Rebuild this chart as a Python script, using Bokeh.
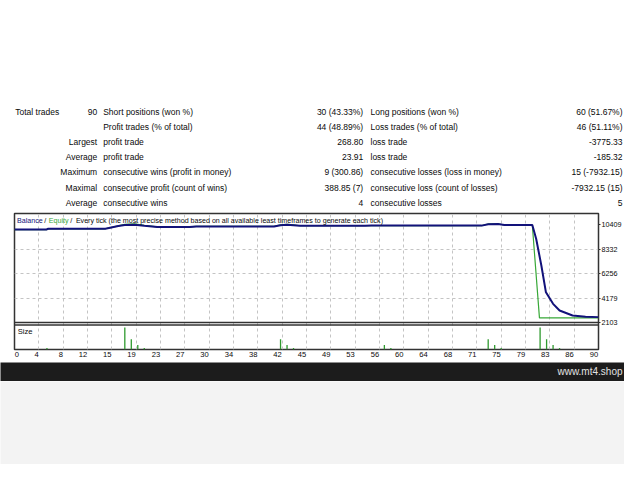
from bokeh.plotting import figure
from bokeh.models import Range1d, FixedTicker, Span, LinearAxis, Grid
from bokeh.embed import file_html
from bokeh.resources import INLINE
from bokeh.core.properties import value

# ---------------- data ----------------
total_trades = 90
row_titles = ["Total trades", "", "", "", "", "", ""]
row_heads = ["90", "", "Largest", "Average", "Maximum", "Maximal", "Average"]
left_names = ["Short positions (won %)", "Profit trades (% of total)", "profit trade", "profit trade",
              "consecutive wins (profit in money)", "consecutive profit (count of wins)", "consecutive wins"]
left_values = ["30 (43.33%)", "44 (48.89%)", "268.80", "23.91", "9 (300.86)", "388.85 (7)", "4"]
right_names = ["Long positions (won %)", "Loss trades (% of total)", "loss trade", "loss trade",
               "consecutive losses (loss in money)", "consecutive loss (count of losses)", "consecutive losses"]
right_values = ["60 (51.67%)", "46 (51.11%)", "-3775.33", "-185.32", "15 (-7932.15)", "-7932.15 (15)", "5"]

balance_x = [0, 4.9, 5.2, 14, 16, 17, 18.5, 20, 22, 27, 28, 40, 41, 42, 43, 44, 54, 55, 72, 73, 74.5, 75.5,
             79.8, 80.4, 81.2, 81.9, 83, 84, 86, 88, 90]
balance_y = [10000, 10000, 10070, 10070, 10300, 10400, 10420, 10330, 10230, 10230, 10270, 10270, 10370, 10410,
             10380, 10330, 10330, 10340, 10340, 10460, 10470, 10390,
             10390, 9200, 6930, 4670, 3690, 3120, 2700, 2600, 2560]
equity_x = [0, 4.9, 5.2, 14, 16, 17, 18.5, 20, 22, 27, 28, 40, 41, 42, 43, 44, 54, 55, 72, 73, 74.5, 75.5,
            79.8, 80.9, 90]
equity_y = [10000, 10000, 10070, 10070, 10320, 10450, 10480, 10360, 10230, 10230, 10270, 10270, 10400, 10450,
            10400, 10330, 10330, 10340, 10340, 10480, 10490, 10390,
            10390, 2500, 2500]
size_trades = [5, 17, 18, 19, 20, 41, 42, 43, 57, 58, 73, 74, 75, 81, 82, 83, 84]
size_lots = [0.02, 0.16, 0.08, 0.04, 0.02, 0.08, 0.04, 0.02, 0.04, 0.02, 0.08, 0.04, 0.02,
             0.16, 0.08, 0.04, 0.02]
min_lot = 0.01
y_ticks = [2103, 4179, 6256, 8332, 10409]
x_tick_labels = ["0", "4", "8", "12", "15", "19", "23", "27", "30", "34", "38", "42", "45",
                 "49", "53", "56", "60", "64", "68", "71", "75", "79", "83", "86", "90"]

# ---------------- styling / geometry ----------------
FONT = "Liberation Sans"
TXT = "#0a0a0a"
NAVY = "#12127a"
GREEN = "#37a837"
W = 624
BL, BR = 14, 23
FR_L, FR_R = BL, W - BR
FR_T, FR_B = 213, 349
PPT = (FR_R - FR_L) / total_trades
K = (y_ticks[-1] - y_ticks[0]) / 97.7
Y_BASE_PX = 322


def tx(px):
    return (px - FR_L) / PPT


def vy(py):
    return y_ticks[0] + (Y_BASE_PX - py) * K


def plain(height, bg="white"):
    f = figure(width=W, height=height, x_range=Range1d(0, W), y_range=Range1d(height, 0),
               min_border=0, x_axis_location=None, y_axis_location=None, outline_line_color=None,
               toolbar_location=None, output_backend="svg", title_location=None,
               background_fill_color=bg, border_fill_color=bg)
    f.grid.visible = False
    return f


# ---------------- table figure ----------------
TAB_H = 212
tab = plain(TAB_H)
rows_y = [111 + i * 15.23 for i in range(len(left_names))]
cols = [
    (row_titles, 14.7, "left"),
    (row_heads, 96.7, "right"),
    (left_names, 102.7, "left"),
    (left_values, 362.7, "right"),
    (right_names, 370, "left"),
    (right_values, 622, "right"),
]
for texts, xpx, align in cols:
    ys = [y for y, t in zip(rows_y, texts) if t]
    ts = [t for t in texts if t]
    tab.text(x=[xpx] * len(ts), y=ys, text=ts, text_align=align, text_baseline="middle",
             text_font=value(FONT), text_font_size="8.5px", text_color=TXT)

# ---------------- balance / equity + size figure ----------------
size_per_px = (max(size_lots) - min_lot) / 22.0
p = figure(width=W, height=150, output_backend="svg", toolbar_location=None, title_location=None,
           x_range=Range1d(0, total_trades), y_range=Range1d(vy(FR_B), vy(FR_T)),
           x_axis_location=None, y_axis_location=None,
           min_border_left=BL, min_border_right=BR, min_border_top=1, min_border_bottom=13,
           outline_line_color="#333333", outline_line_width=1.5, background_fill_color="white")
p.extra_y_ranges = {"size": Range1d(min_lot, min_lot + (FR_B - FR_T) * size_per_px)}
p.center = [r for r in p.center if not isinstance(r, Grid)]

tick_pos = [i * total_trades / (len(x_tick_labels) - 1) for i in range(len(x_tick_labels))]
p.add_layout(Grid(dimension=0, ticker=FixedTicker(ticks=tick_pos[1:-1]), grid_line_color="#c4c4c4",
                  grid_line_dash="3 3", grid_line_width=1))
p.add_layout(Grid(dimension=1, ticker=FixedTicker(ticks=y_ticks[1:-1]), grid_line_color="#c4c4c4",
                  grid_line_dash="3 3", grid_line_width=1))

p.add_layout(Span(location=y_ticks[0], dimension="width", line_color="#333333", line_width=1.5))
p.add_layout(Span(location=vy(324.5), dimension="width", line_color="#333333", line_width=1.5))

p.line(equity_x, equity_y, line_color=GREEN, line_width=1.2)
p.line(balance_x, balance_y, line_color=NAVY, line_width=2)
p.segment(x0=size_trades, y0=[min_lot] * len(size_trades), x1=size_trades, y1=size_lots,
          y_range_name="size", line_color="#2f9a2f", line_width=1.3)

for txt, xpx, col in [("Balance", 16.5, NAVY), ("/", 44.0, TXT), ("Equity", 48.5, GREEN),
                      ("/", 70.0, TXT),
                      ("Every tick (the most precise method based on all available least timeframes to generate each tick)",
                       75.7, TXT)]:
    p.text(x=[tx(xpx)], y=[vy(220)], text=[txt], text_align="left", text_baseline="middle",
           text_font=value(FONT), text_font_size="7.1px", text_color=col)
p.text(x=[tx(17.3)], y=[vy(330.7)], text=["Size"], text_align="left", text_baseline="middle",
       text_font=value(FONT), text_font_size="7.6px", text_color=TXT)

ax_r = LinearAxis(ticker=FixedTicker(ticks=y_ticks), major_tick_out=2, major_tick_in=0,
                  minor_tick_out=0, minor_tick_in=0, axis_line_color=None, major_tick_line_color="#333333",
                  major_label_standoff=1, major_label_text_font=FONT, major_label_text_font_size="7.2px",
                  major_label_text_color=TXT)
p.add_layout(ax_r, "right")

label_pos = []
overrides = {}
for i, (t, lbl) in enumerate(zip(tick_pos, x_tick_labels)):
    shift = len(lbl) * 2.3 / PPT
    pos = round(t + shift if i == 0 else t - shift, 3)
    label_pos.append(pos)
    overrides[pos] = lbl
ax_b = LinearAxis(ticker=FixedTicker(ticks=label_pos), major_label_overrides=overrides,
                  major_tick_out=0, major_tick_in=0, minor_tick_out=0, minor_tick_in=0,
                  axis_line_color=None, major_label_standoff=2, major_label_text_font=FONT,
                  major_label_text_font_size="7.6px", major_label_text_color=TXT)
p.add_layout(ax_b, "below")

# ---------------- footer band ----------------
band = plain(19, "#1c1c1c")
band.text(x=[622], y=[8.7], text=["www.mt4.shop"], text_align="right", text_baseline="middle",
          text_font=value(FONT), text_font_size="10px", text_color="#e2e2e2")
grey = plain(464 - TAB_H - 150 - 19, "#f3f3f3")

# separate roots so that figure frames are not aligned with each other
open("out.html", "w").write(file_html([tab, p, band, grey], INLINE))
